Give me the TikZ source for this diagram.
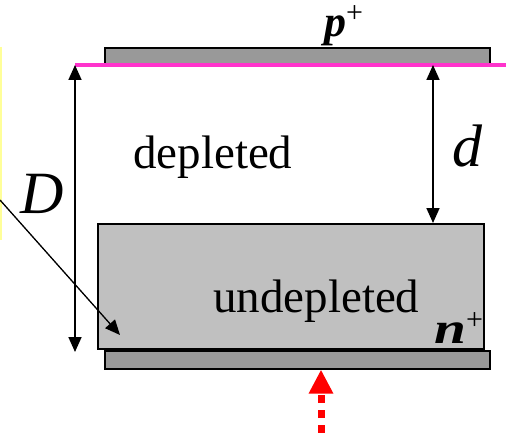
\documentclass[tikz,border=0pt]{standalone}
\usepackage{fontspec}
\setmainfont{Liberation Serif}
\usetikzlibrary{arrows.meta,positioning,calc}
\definecolor{plategrey}{HTML}{999999}
\definecolor{bulkgrey}{HTML}{C0C0C0}
\definecolor{junction}{HTML}{FF33CC}
\definecolor{legendyel}{HTML}{FFFF99}
\definecolor{beamred}{HTML}{FF0000}
\newcommand{\typeplus}{\raisebox{14pt}{\upshape\mdseries\fontsize{30}{32}\selectfont +}}
\tikzset{
  >={Triangle[length=15pt,width=13pt]},
  plate/.style={draw=black,line width=1.6pt,fill=plategrey,anchor=north west,
                inner sep=0pt,minimum width=385pt,minimum height=17pt},
  bulk/.style={draw=black,line width=1.8pt,fill=bulkgrey,anchor=north west,
               inner sep=0pt,minimum width=386pt,minimum height=125pt},
  lbl/.style={inner sep=0pt,anchor=base west,font=\fontsize{47}{50}\selectfont},
  dimlbl/.style={inner sep=0pt,anchor=base west,font=\fontsize{60}{64}\selectfont\itshape},
  typelbl/.style={inner sep=0pt,anchor=base west,font=\fontsize{44}{48}\selectfont\bfseries\itshape},
  dim/.style={<->,line width=1.7pt},
  pointer/.style={->,line width=1.3pt},
  edge/.style={line width=4pt,draw=junction},
  beam/.style={-{Triangle[length=24pt,width=23pt]},line width=7pt,draw=beamred,
               dash pattern=on 8pt off 7pt},
}

\begin{document}
\begin{tikzpicture}[x=1pt,y=-1pt]
  \useasboundingbox (0,0) rectangle (506,433);

  % contacts and bulk
  \node[plate] (pplate) at (104,47) {};
  \node[bulk] (undep) at (97,223) {};
  \node[plate,minimum height=18pt] (nplate) at (104,350) {};

  % depletion edge
  \coordinate (jl) at (75,65);
  \coordinate (jr) at (506,65);
  \draw[edge] (jl) -- (jr);

  % legend box edge (cut off)
  \coordinate (legtop) at (1,47);
  \coordinate (legbot) at (1,240);
  \draw[legendyel,line width=2.5pt] (legtop) -- (legbot);

  % labels
  \node[lbl] (dep) at (133,168) {depleted};
  \node[lbl] (undeplbl) at (213,312) {undepleted};
  \node[dimlbl] (Dlbl) at (20,213) {D};
  \node[dimlbl] (dlbl) at (452,166) {d};
  \node[typelbl] (ptype) at (324,37) {p\typeplus};
  \node[typelbl] (ntype) at (434,343) {\scalebox{1.3}[1]{n}\typeplus};

  % dimensions
  \coordinate (Dbot) at (75,352);
  \draw[dim] (jl) -- (Dbot);
  \coordinate (dtop) at (433,65);
  \draw[dim] (dtop) -- (dtop |- undep.north);

  \coordinate (legsrc) at (0,200);
  \coordinate (ptr) at (120,335);
  \draw[pointer] (legsrc) -- (ptr);

  % incoming light
  \coordinate (beamsrc) at (321,433);
  \draw[beam] (beamsrc) -- (beamsrc |- nplate.south);
\end{tikzpicture}
\end{document}
